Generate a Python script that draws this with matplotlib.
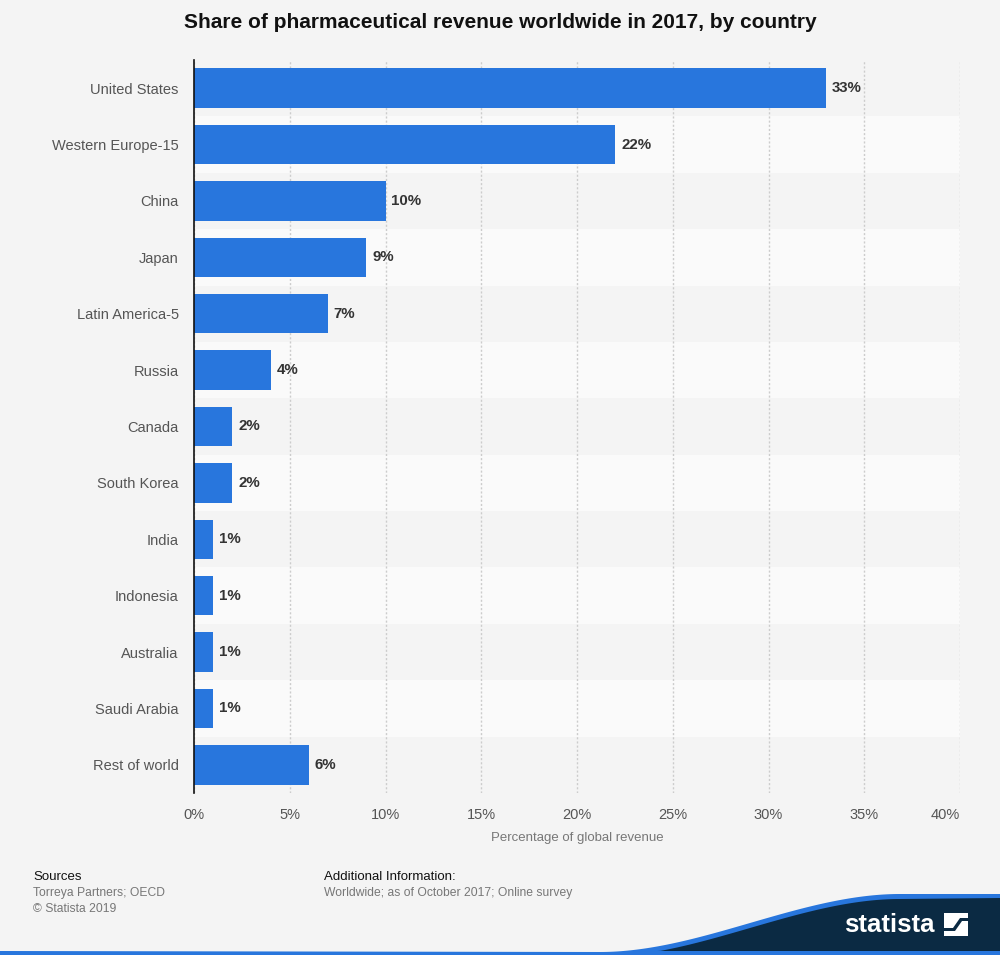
import matplotlib.pyplot as plt
import numpy as np
from matplotlib.patches import Polygon, Rectangle

plt.rcParams['font.family'] = ['Liberation Sans', 'DejaVu Sans']

# Values
countries = ['United States', 'Western Europe-15', 'China', 'Japan', 'Latin America-5',
             'Russia', 'Canada', 'South Korea', 'India', 'Indonesia', 'Australia',
             'Saudi Arabia', 'Rest of world']
shares = [33, 22, 10, 9, 7, 4, 2, 2, 1, 1, 1, 1, 6]
xticks = [0, 5, 10, 15, 20, 25, 30, 35, 40]

BG = '#f4f4f4'
BLUE = '#2876dd'
NAVY = '#0b2a43'

W, H = 1000, 955
fig = plt.figure(figsize=(W / 100, H / 100), dpi=100, facecolor=BG)

ax = fig.add_axes([0.194, 1 - 793 / H, 0.766, (793 - 60) / H])
ax.set_facecolor(BG)

n = len(countries)
ypos = np.arange(n)
for i in range(n):
    if i % 2 == 1:
        ax.axhspan(i - 0.5, i + 0.5, color='#fafafa', zorder=0, lw=0)

ax.barh(ypos, shares, height=0.7, color=BLUE, zorder=3)
for y, v in zip(ypos, shares):
    ax.text(v + 0.3, y, '%d%%' % v, va='center', ha='left', fontsize=10.8,
            fontweight='bold', color='#333333', zorder=4)

ax.set_ylim(n - 0.5, -0.5)
ax.set_xlim(0, 40)
ax.set_yticks(ypos)
ax.set_yticklabels(countries, fontsize=10.5, color='#555555')
ax.set_xticks(xticks)
labels = ax.set_xticklabels(['%d%%' % t for t in xticks], fontsize=10.5, color='#555555')
labels[-1].set_ha('right')
ax.tick_params(length=0)
ax.tick_params(axis='y', pad=11)
ax.tick_params(axis='x', pad=11)
ax.grid(axis='x', linestyle=(0, (1.5, 1.5)), color='#cccccc', lw=1, zorder=1)
ax.set_axisbelow(True)
for s in ['top', 'right', 'bottom']:
    ax.spines[s].set_visible(False)
ax.spines['left'].set_color('#111111')
ax.spines['left'].set_linewidth(1.2)
ax.spines['left'].set_zorder(5)
ax.set_xlabel('Percentage of global revenue', fontsize=9.5, color='#777777', labelpad=7)

fig.text(0.5, 1 - 22 / H, 'Share of pharmaceutical revenue worldwide in 2017, by country',
         ha='center', va='center', fontsize=15, fontweight='bold', color='#111111')

# footer
fig.text(33 / W, 1 - 877 / H, 'Sources', fontsize=9.5, color='#111111', va='center')
fig.text(33 / W, 1 - 893 / H, 'Torreya Partners; OECD', fontsize=8.7, color='#777777', va='center')
fig.text(33 / W, 1 - 909 / H, '\u00a9 Statista 2019', fontsize=8.7, color='#777777', va='center')
fig.text(324 / W, 1 - 877 / H, 'Additional Information:', fontsize=9.5, color='#111111', va='center')
fig.text(324 / W, 1 - 893 / H, 'Worldwide; as of October 2017; Online survey', fontsize=8.7,
         color='#777777', va='center')

# bottom wave and logo
bg = fig.add_axes([0, 0, 1, 1], zorder=-1)
bg.set_xlim(0, W)
bg.set_ylim(H, 0)
bg.axis('off')
xs = np.linspace(600, 900, 90)
t = (xs - 600) / 300
s = 3 * t ** 2 - 2 * t ** 3
yc = 953 - 58 * s
top_blue = [(0, 951)] + list(zip(xs, yc - 1)) + [(W, 894), (W, H), (0, H)]
bg.add_patch(Polygon(top_blue, closed=True, color=BLUE, lw=0))
yn = np.minimum(yc + 4, 951)
navy = list(zip(xs, yn)) + [(W, 898), (W, 951), (600, 951)]
bg.add_patch(Polygon(navy, closed=True, color=NAVY, lw=0))

ov = fig.add_axes([0, 0, 1, 1], zorder=10)
ov.set_xlim(0, W)
ov.set_ylim(H, 0)
ov.axis('off')
ov.text(889, 925, 'statista', ha='center', va='center', fontsize=18.5, fontweight='bold',
        color='white')
ov.add_patch(Rectangle((944, 913), 24, 23, color='white', lw=0))
ov.add_patch(Polygon([(944, 928), (953, 928), (960, 918), (968, 918), (968, 921), (962, 921),
                      (955, 931), (944, 931)], closed=True, color=NAVY, lw=0))

fig.savefig('out.png', dpi=100, facecolor=BG)
